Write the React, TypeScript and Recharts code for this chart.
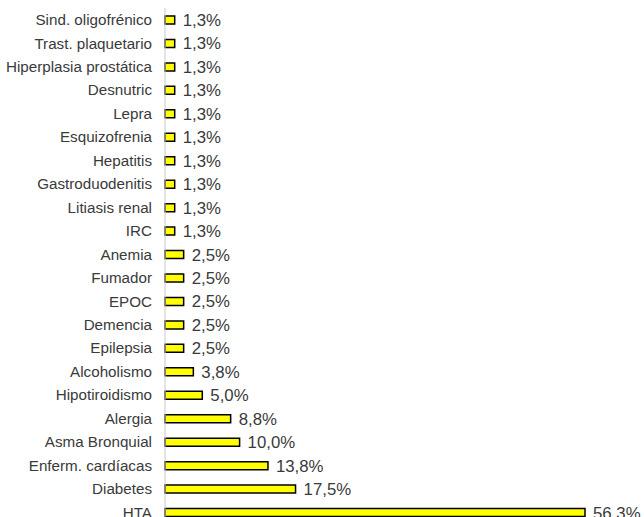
import { BarChart, Bar, XAxis, YAxis, LabelList } from 'recharts'

// Prevalencia de comorbilidades (%), barras horizontales de arriba a abajo
const categorias = [
  'Sind. oligofrénico',
  'Trast. plaquetario',
  'Hiperplasia prostática',
  'Desnutric',
  'Lepra',
  'Esquizofrenia',
  'Hepatitis',
  'Gastroduodenitis',
  'Litiasis renal',
  'IRC',
  'Anemia',
  'Fumador',
  'EPOC',
  'Demencia',
  'Epilepsia',
  'Alcoholismo',
  'Hipotiroidismo',
  'Alergia',
  'Asma Bronquial',
  'Enferm. cardíacas',
  'Diabetes',
  'HTA',
]

const porcentajes = [
  1.3, 1.3, 1.3, 1.3, 1.3, 1.3, 1.3, 1.3, 1.3, 1.3,
  2.5, 2.5, 2.5, 2.5, 2.5,
  3.8, 5.0, 8.8, 10.0, 13.8, 17.5, 56.3,
]

const BAR_FILL = '#ffff00'
const TEXT_COLOR = '#3a3a3a'
const FONT = '"Liberation Sans", Arial, sans-serif'

const fmt = (v: any) => `${Number(v).toFixed(1).replace('.', ',')}%`

export default function App() {
  const data = categorias.map((c, i) => ({ nombre: c, valor: porcentajes[i] }))

  return (
    <div style={{ position: 'absolute', left: 0, top: 0, background: '#fff' }}>
      <BarChart
        width={644}
        height={532}
        layout="vertical"
        data={data}
        margin={{ top: 8, right: 59, left: 0, bottom: 8 }}
        barCategoryGap={0}
      >
        <XAxis type="number" domain={[0, 56.3]} hide />
        <YAxis
          type="category"
          dataKey="nombre"
          width={165}
          interval={0}
          tickLine={false}
          tickSize={0}
          tickMargin={13}
          axisLine={{ stroke: '#c8c8c8', strokeWidth: 1 }}
          tick={{ fontSize: 15.2, fill: TEXT_COLOR, fontFamily: FONT }}
        />
        <Bar
          dataKey="valor"
          fill={BAR_FILL}
          stroke="#000"
          strokeWidth={1.5}
          barSize={8}
          isAnimationActive={false}
        >
          <LabelList
            dataKey="valor"
            position="right"
            offset={8}
            formatter={fmt}
            style={{ fontSize: 16.8, fill: TEXT_COLOR, fontFamily: FONT }}
          />
        </Bar>
      </BarChart>
    </div>
  )
}
